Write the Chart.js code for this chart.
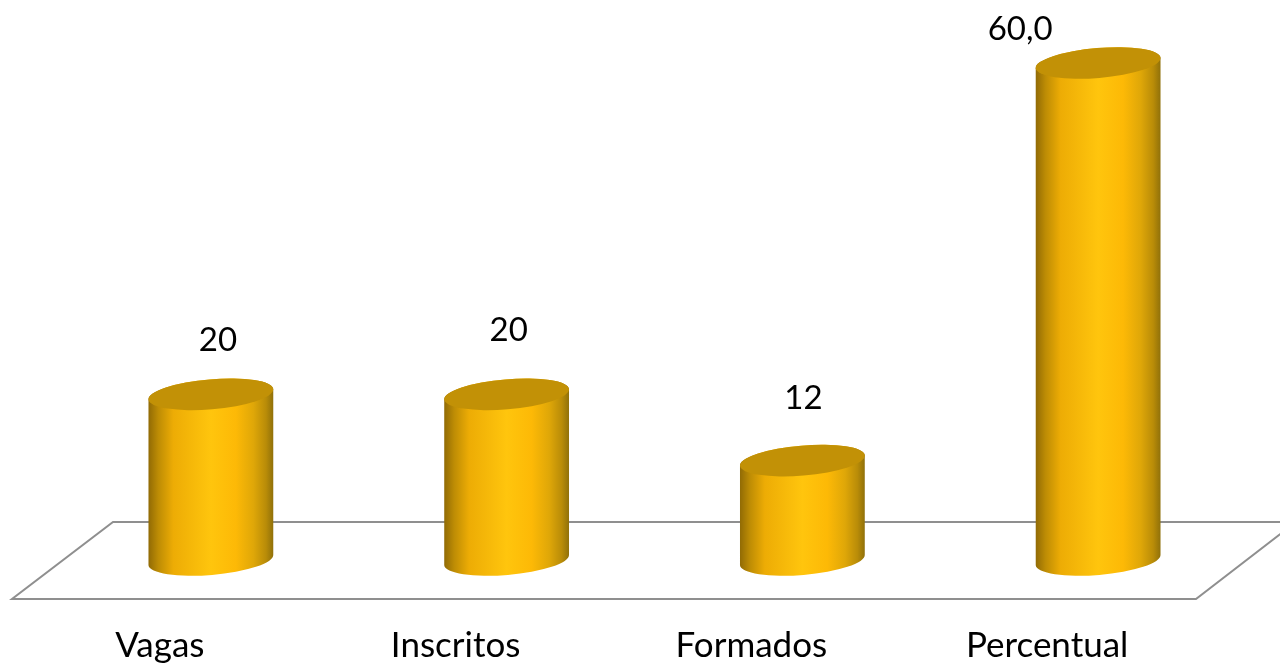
<!DOCTYPE html>
<html lang="pt">
<head>
<meta charset="utf-8">
<title>Vagas, inscritos e formados</title>
<script src="https://cdn.jsdelivr.net/npm/chart.js@4"></script>
<style>
  html, body { margin: 0; padding: 0; background: #fff; overflow: hidden; }
  #wrap { width: 1280px; height: 664px; }
</style>
</head>
<body>
<div id="wrap"><canvas id="grafico"></canvas></div>
<script>
const categorias = ["Vagas", "Inscritos", "Formados", "Percentual"];
const valores = [20, 20, 12, 60];
const rotulos = ["20", "20", "12", "60,0"];

// deslocamento de cada rotulo em relacao ao topo da barra
const rotuloDx = [7, 2, 1, -78];
const rotuloDy = [-54, -64, -62, -34];

const FONTE = "Lato, sans-serif";
const rotacao = -4.8 * Math.PI / 180;
const raioMenor = 15;

// cilindro desenhado a partir das posicoes calculadas pelo proprio Chart.js
const cilindros = {
  id: "cilindros",
  beforeDatasetsDraw(chart) {
    const { ctx, chartArea } = chart;
    const yBase = chartArea.bottom;

    // plano do chao
    ctx.save();
    ctx.strokeStyle = "#8f8f8f";
    ctx.lineWidth = 2;
    ctx.beginPath();
    ctx.moveTo(1296, yBase - 38);
    ctx.lineTo(113, yBase - 38);
    ctx.lineTo(12, yBase + 39);
    ctx.lineTo(1196, yBase + 39);
    ctx.lineTo(1296, yBase - 38);
    ctx.stroke();
    ctx.restore();
  },
  afterDatasetsDraw(chart) {
    const { ctx } = chart;
    const meta = chart.getDatasetMeta(0);

    meta.data.forEach((bar, i) => {
      const raio = bar.width / 2 + 0.5;
      const esq = bar.x - raio;
      const grad = ctx.createLinearGradient(esq, 0, esq + raio * 2, 0);
      grad.addColorStop(0, "#906a05");
      grad.addColorStop(0.08, "#bd8c05");
      grad.addColorStop(0.2, "#edac05");
      grad.addColorStop(0.5, "#ffc50d");
      grad.addColorStop(0.7, "#fdb906");
      grad.addColorStop(0.84, "#dfa708");
      grad.addColorStop(0.94, "#b98c08");
      grad.addColorStop(1, "#8f700a");

      ctx.save();
      ctx.fillStyle = grad;
      ctx.beginPath();
      ctx.ellipse(bar.x, bar.base, raio, raioMenor, rotacao, 0, Math.PI);
      ctx.ellipse(bar.x, bar.y, raio, raioMenor, rotacao, Math.PI, Math.PI * 2);
      ctx.closePath();
      ctx.fill();

      ctx.fillStyle = "#c29106";
      ctx.beginPath();
      ctx.ellipse(bar.x, bar.y, raio, raioMenor, rotacao, 0, Math.PI * 2);
      ctx.fill();

      ctx.fillStyle = "#000";
      ctx.font = "33px " + FONTE;
      ctx.textAlign = "center";
      ctx.textBaseline = "middle";
      ctx.fillText(rotulos[i], bar.x + rotuloDx[i], bar.y + rotuloDy[i]);
      ctx.restore();
    });
  },
};

new Chart(document.getElementById("grafico"), {
  type: "bar",
  data: {
    labels: categorias,
    datasets: [
      {
        data: valores,
        backgroundColor: "transparent",
        categoryPercentage: 1,
        barPercentage: 0.42,
      },
    ],
  },
  options: {
    responsive: true,
    maintainAspectRatio: false,
    animation: false,
    layout: { padding: { top: 63, left: 63, right: 34, bottom: 0 } },
    plugins: {
      legend: { display: false },
      tooltip: { enabled: false },
    },
    scales: {
      x: {
        grid: { display: false },
        border: { display: false },
        afterFit: (scale) => { scale.height = 104; },
        ticks: {
          color: "#000",
          font: { family: FONTE, size: 35 },
          padding: 57,
          labelOffset: -51,
          maxRotation: 0,
          autoSkip: false,
        },
      },
      y: {
        display: false,
        min: 0,
        max: 60,
      },
    },
  },
  plugins: [cilindros],
});
</script>
</body>
</html>
